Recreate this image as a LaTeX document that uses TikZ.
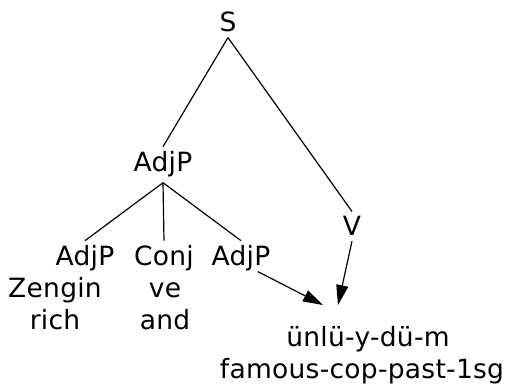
\documentclass[tikz,border=0pt]{standalone}
\usepackage{fontspec}
\setmainfont{DejaVu Sans}[LetterSpace=1]
\usetikzlibrary{arrows.meta,calc}
\begin{document}
\begin{tikzpicture}[x=1pt,y=-1pt,
  lbl/.style={anchor=base,inner sep=5pt,font=\fontsize{26.5}{30}\selectfont},
  edge/.style={line width=1.2pt},
  arr/.style={line width=1.2pt,-{Triangle[length=20pt,width=12pt]}}]
\useasboundingbox (0,0) rectangle (507,385);
\node[lbl] (S) at (228,32) {S};
\node[lbl] (adjp) at (163,172) {AdjP};
\node[lbl] (V) at (352,236) {V};
\node[lbl] (adjp1) at (85,266) {AdjP};
\node[lbl] (conj) at (164,266) {Conj};
\node[lbl] (adjp2) at (241,266) {AdjP};
\node[lbl] (zengin) at (55,298) {Zengin};
\node[lbl] (rich) at (55,330) {rich};
\node[lbl] (ve) at (165,298) {ve};
\node[lbl] (and) at (165,330) {and};
\node[lbl] (word) at (368,347) {ünlü-y-dü-m};
\node[lbl] (gloss) at (362,379) {famous-cop-past-1sg};
\coordinate (tipA) at (323,305);
\coordinate (tipB) at (338,305);
\coordinate (startA) at ($(adjp2.south)+(17,-5)$);
\draw[edge] (S.south) -- (adjp.north);
\draw[edge] (S.south) -- (V.north);
\draw[edge] (adjp.south) -- (adjp1.north);
\draw[edge] (adjp.south) -- (conj.north);
\draw[edge] (adjp.south) -- (adjp2.north);
\draw[arr] (startA) -- (tipA);
\draw[arr] (V.south) -- (tipB);
\end{tikzpicture}
\end{document}
